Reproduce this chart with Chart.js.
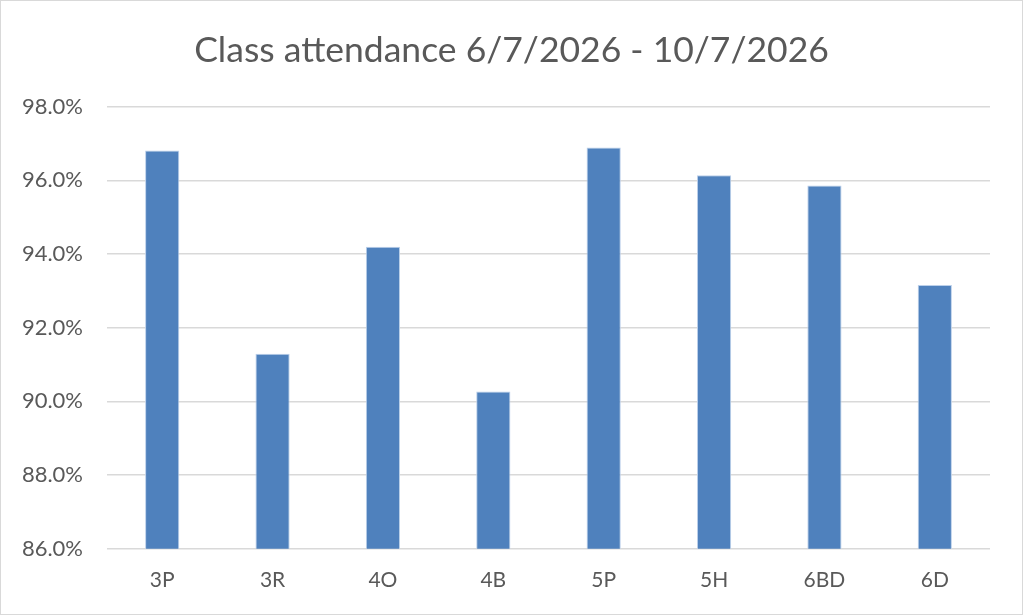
<!DOCTYPE html>
<html>
<head>
<meta charset="utf-8">
<script src="https://cdn.jsdelivr.net/npm/chart.js@4"></script>
<style>
    html, body { margin: 0; padding: 0; background: #fff; }
    #wrap { width: 1023px; height: 615px; box-sizing: border-box; border: 1px solid #d9d9d9; }
    #chart { display: block; }
</style>
</head>
<body>
<div id="wrap"><canvas id="chart" width="1021" height="613"></canvas></div>
<script>
const classes = ["3P", "3R", "4O", "4B", "5P", "5H", "6BD", "6D"];
const attendance = [96.81, 91.29, 94.2, 90.27, 96.89, 96.14, 95.86, 93.16];
const yTicks = [86, 88, 90, 92, 94, 96, 98];

const font = "Lato, 'Open Sans', sans-serif";
const grey = '#595959';

let ctx = document.getElementById("chart");
let barChart = new Chart(ctx, {
    type: 'bar',
    data: {
        labels: classes,
        datasets: [{
            data: attendance,
            backgroundColor: '#4f81bd',
            borderColor: '#bcd0ea',
            borderWidth: 1,
            barPercentage: 0.31,
            categoryPercentage: 1
        }]
    },
    options: {
        responsive: false,
        animation: false,
        devicePixelRatio: 1,
        layout: {
            padding: { left: 0, right: 0, top: 20, bottom: 10 }
        },
        scales: {
            x: {
                grid: { display: false },
                border: { display: false },
                ticks: { color: grey, font: { family: font, size: 21 }, padding: 11 }
            },
            y: {
                min: yTicks[0],
                max: yTicks[yTicks.length - 1],
                afterBuildTicks: (axis) => {
                    axis.ticks = yTicks.map((v) => ({ value: v }));
                },
                afterFit: (axis) => { axis.width = 106; },
                grid: { color: '#d9d9d9', lineWidth: 1.5, drawTicks: false },
                border: { display: false },
                ticks: {
                    color: grey,
                    font: { family: font, size: 22 },
                    padding: 24,
                    callback: (v) => v.toFixed(1) + '%'
                }
            },
            // empty right-hand margin so the title stays centred on the page
            yRight: {
                position: 'right',
                afterFit: (axis) => { axis.width = 32; },
                grid: { display: false },
                border: { display: false },
                ticks: { display: false }
            }
        },
        plugins: {
            legend: { display: false },
            tooltip: { enabled: false },
            title: {
                display: true,
                text: 'Class attendance 6/7/2026 - 10/7/2026',
                color: grey,
                font: { family: font, size: 35.5, weight: 'normal' },
                padding: { top: 8, bottom: 35 }
            }
        }
    }
});
</script>
</body>
</html>
